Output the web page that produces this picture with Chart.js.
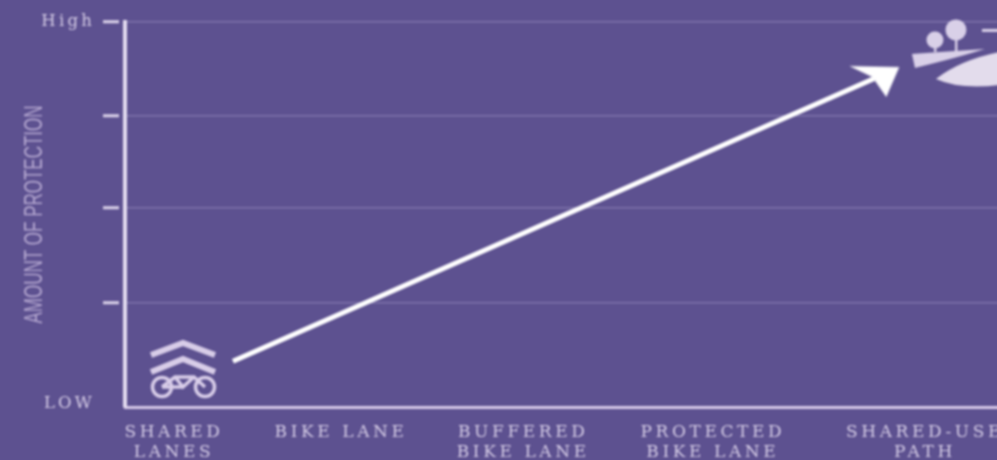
<!DOCTYPE html>
<html>
<head>
<meta charset="utf-8">
<title>Amount of protection</title>
<style>
html, body { margin: 0; padding: 0; width: 997px; height: 460px; overflow: hidden; background: #5d5190; }
canvas { display: block; filter: blur(1px); }
</style>
<script src="https://cdn.jsdelivr.net/npm/chart.js@4"></script>
</head>
<body>
<canvas id="protectionChart" width="1100" height="460"></canvas>
<script>
var categories = [['SHARED', 'LANES'], 'BIKE LANE', ['BUFFERED', 'BIKE LANE'], ['PROTECTED', 'BIKE LANE'], ['SHARED-USE', 'PATH']];
var categoryPos = [0, 0.89, 1.86, 2.87, 4];
var levelValues = [0.04, 1.12, 2.13, 3.12, 4.12];
var levelLabels = ['LOW', '', '', '', 'High'];
var arrowX = [0.314, 3.73];
var arrowY = [0.49, 3.515];
var bikeIconX = [0.053];
var bikeIconY = [0.407];
var parkIconX = [4.186];
var parkIconY = [3.80];

var axisColor = '#e4dcf0';
var textColor = '#d6cde6';

function makeIcon(w, h, draw) {
    var c = document.createElement('canvas');
    c.width = w;
    c.height = h;
    draw(c.getContext('2d'));
    return c;
}

var arrowHead = makeIcon(60, 48, function (g) {
    g.translate(30, 24);
    g.fillStyle = '#ffffff';
    g.beginPath();
    g.moveTo(25, -11.5);
    g.lineTo(-25, -12.5);
    g.lineTo(-2, -1.5);
    g.lineTo(12, 18.5);
    g.closePath();
    g.fill();
});

var bikeIcon = makeIcon(72, 60, function (g) {
    g.strokeStyle = '#d8cde8';
    g.lineWidth = 6;
    g.beginPath();
    g.moveTo(3, 16); g.lineTo(35, 4); g.lineTo(67, 16);
    g.moveTo(3, 33); g.lineTo(35, 20); g.lineTo(67, 33);
    g.stroke();
    g.lineWidth = 3.5;
    g.beginPath();
    g.arc(14, 48, 9.5, 0, Math.PI * 2);
    g.moveTo(67, 48);
    g.arc(57, 48, 9.5, 0, Math.PI * 2);
    g.moveTo(14, 48); g.lineTo(27, 38); g.lineTo(46, 38); g.lineTo(57, 48);
    g.moveTo(27, 38); g.lineTo(35, 48); g.lineTo(46, 38);
    g.moveTo(35, 48); g.lineTo(14, 48);
    g.stroke();
});

var parkIcon = makeIcon(100, 80, function (g) {
    g.translate(-910, -12);
    g.fillStyle = '#d9d0e8';
    g.beginPath(); g.arc(935, 40, 8.5, 0, Math.PI * 2); g.fill();
    g.beginPath(); g.arc(956, 30, 10.5, 0, Math.PI * 2); g.fill();
    g.fillRect(934, 44, 2.5, 8);
    g.fillRect(955, 36, 2.5, 16);
    g.fillRect(982, 29, 18, 3);
    g.beginPath();
    g.moveTo(912, 54);
    g.lineTo(985, 49);
    g.quadraticCurveTo(960, 57, 915, 68);
    g.closePath();
    g.fill();
    g.fillStyle = '#e3dcec';
    g.beginPath();
    g.moveTo(936, 79);
    g.quadraticCurveTo(960, 60, 1000, 52);
    g.lineTo(1000, 85);
    g.quadraticCurveTo(960, 90, 936, 79);
    g.closePath();
    g.fill();
});

function toPoints(xs, ys) {
    return xs.map(function (x, i) { return { x: x, y: ys[i] }; });
}

// tick labels in the picture are widely spaced, the axis title is squeezed
var labelTweaks = {
    id: 'labelTweaks',
    beforeDraw: function (chart) {
        var x = chart.scales.x;
        var y = chart.scales.y;
        var ctx = chart.ctx;
        if (x._tweaked) return;
        x._tweaked = true;
        [[x, '3.6px'], [y, '3.2px']].forEach(function (item) {
            var orig = item[0].drawLabels;
            item[0].drawLabels = function (area) {
                ctx.letterSpacing = item[1];
                orig.call(item[0], area);
                ctx.letterSpacing = '0px';
            };
        });
        var origTitle = y.drawTitle;
        y.drawTitle = function () {
            var mid = (y.top + y.bottom) / 2;
            ctx.save();
            ctx.translate(0, mid);
            ctx.scale(1, 0.68);
            ctx.translate(0, -mid);
            origTitle.call(y);
            ctx.restore();
        };
    }
};

new Chart(document.getElementById('protectionChart'), {
    type: 'scatter',
    plugins: [labelTweaks],
    data: {
        datasets: [
            {
                data: toPoints(arrowX, arrowY),
                showLine: true,
                borderColor: '#ffffff',
                borderWidth: 5,
                pointStyle: function (ctx) { return ctx.dataIndex === 1 ? arrowHead : false; },
                pointRadius: function (ctx) { return ctx.dataIndex === 1 ? 5 : 0; }
            },
            { data: toPoints(bikeIconX, bikeIconY), pointStyle: bikeIcon, pointRadius: 5, clip: false },
            { data: toPoints(parkIconX, parkIconY), pointStyle: parkIcon, pointRadius: 5, clip: false }
        ]
    },
    options: {
        responsive: false,
        animation: false,
        layout: { padding: { top: 22 } },
        plugins: { legend: { display: false }, tooltip: { enabled: false } },
        scales: {
            x: {
                type: 'linear',
                min: -0.261,
                max: 4.879,
                afterFit: function (s) {
                    s.height = 53;
                    s.paddingLeft = 0;
                    s.paddingRight = 0;
                },
                afterBuildTicks: function (s) {
                    s.ticks = categoryPos.map(function (v) { return { value: v }; });
                },
                grid: { display: false, drawTicks: false },
                border: { color: '#d6c9e8', width: 3 },
                ticks: {
                    autoSkip: false,
                    maxRotation: 0,
                    padding: 15,
                    color: textColor,
                    font: { family: 'DejaVu Serif', size: 17, lineHeight: 1.2 },
                    callback: function (v, i) { return categories[i]; }
                }
            },
            y: {
                type: 'linear',
                min: 0,
                max: 4.12,
                afterFit: function (s) {
                    s.width = 125;
                    s.paddingTop = 0;
                    s.paddingBottom = 0;
                },
                afterBuildTicks: function (s) {
                    s.ticks = levelValues.map(function (v) { return { value: v }; });
                },
                title: {
                    display: true,
                    text: 'AMOUNT OF PROTECTION',
                    color: '#b3a6cf',
                    padding: { top: 20, bottom: 0 },
                    font: { family: 'Liberation Sans', size: 25 }
                },
                grid: {
                    lineWidth: 1.5,
                    tickLength: 22,
                    tickWidth: 3,
                    tickBorderDash: [16, 20],
                    tickColor: function (c) { return c.index === 0 ? 'transparent' : '#dcd3ea'; },
                    color: function (c) { return c.index === 0 ? 'transparent' : '#7f74aa'; }
                },
                border: { color: axisColor, width: 4 },
                ticks: {
                    autoSkip: false,
                    padding: 8,
                    color: textColor,
                    font: { family: 'DejaVu Serif', size: 16.5 },
                    callback: function (v, i) { return levelLabels[i]; }
                }
            }
        }
    }
});
</script>
</body>
</html>
